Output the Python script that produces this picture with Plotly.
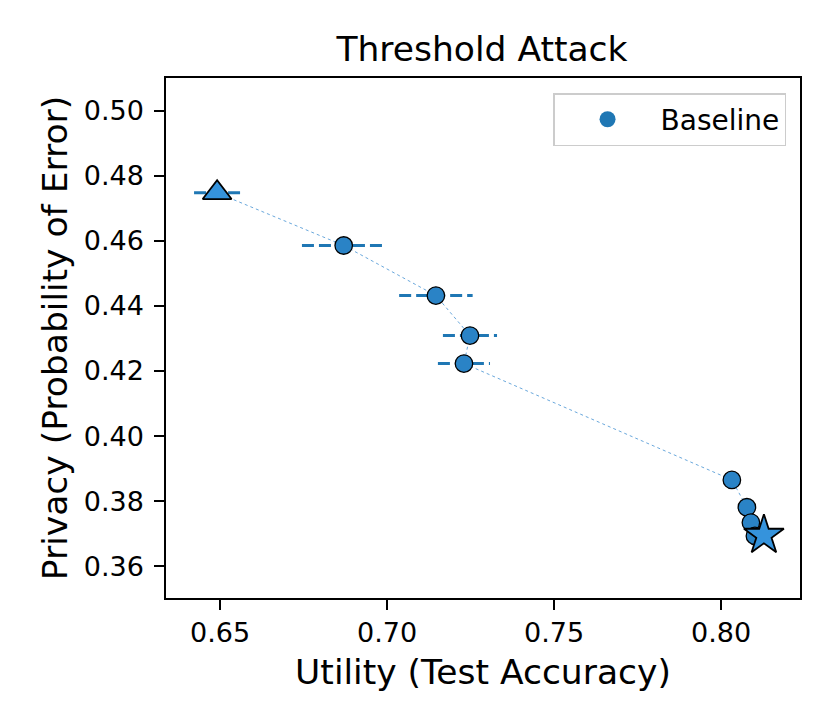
import plotly.graph_objects as go

# Threshold attack: utility vs privacy trade-off
utility = [0.6491, 0.6870, 0.7146, 0.7248, 0.7230, 0.8032, 0.8077, 0.8089, 0.8101, 0.8128]
privacy = [0.4748, 0.4586, 0.4432, 0.4309, 0.4223, 0.3865, 0.3781, 0.3734, 0.3693, 0.3695]
utility_err = [0.0069, 0.0125, 0.0110, 0.0081, 0.0078, 0.0, 0.0, 0.0, 0.0, 0.0]

xticks = [0.65, 0.70, 0.75, 0.80]
yticks = [0.36, 0.38, 0.40, 0.42, 0.44, 0.46, 0.48, 0.50]

FONT = "DejaVu Sans"
C0 = "#1f77b4"

fig = go.Figure()

# thin connecting line
fig.add_trace(go.Scatter(
    x=utility, y=privacy, mode="lines",
    line=dict(color="#6aa8dc", width=1, dash="dot"),
    showlegend=False, hoverinfo="skip",
))

# dashed horizontal error bars
ex, ey = [], []
for u, p, e in zip(utility, privacy, utility_err):
    if e > 0:
        ex += [u - e, u + e, None]
        ey += [p, p, None]
fig.add_trace(go.Scatter(
    x=ex, y=ey, mode="lines",
    line=dict(color=C0, width=3, dash="12px,5px"),
    showlegend=False, hoverinfo="skip",
))

# intermediate points
fig.add_trace(go.Scatter(
    x=utility[1:-1], y=privacy[1:-1], mode="markers",
    marker=dict(symbol="circle", size=17.5, color="#2a83c6",
                line=dict(color="black", width=1.3)),
    showlegend=False,
))

# end points
fig.add_trace(go.Scatter(
    x=utility[:1], y=privacy[:1], mode="markers",
    marker=dict(symbol="triangle-up", size=25, color="#3593dc",
                line=dict(color="black", width=1.8)),
    showlegend=False,
))
fig.add_trace(go.Scatter(
    x=utility[-1:], y=privacy[-1:], mode="markers",
    marker=dict(symbol="star", size=30, color="#3593dc",
                line=dict(color="black", width=1.8)),
    showlegend=False,
))

# legend entry
fig.add_trace(go.Scatter(
    x=[None], y=[None], mode="markers", name="Baseline",
    marker=dict(symbol="circle", size=18, color=C0),
))

axis_common = dict(
    showline=True, linecolor="black", linewidth=1.5, mirror=True,
    ticks="outside", ticklen=10, tickwidth=1.5, tickcolor="black",
    showgrid=False, zeroline=False,
    tickfont=dict(family=FONT, size=27, color="black"),
)

fig.update_layout(
    width=830, height=727,
    margin=dict(l=158, r=38, t=70, b=137),
    paper_bgcolor="white", plot_bgcolor="white",
    font=dict(family=FONT, color="black"),
    title=dict(text="Threshold Attack", x=474 / 830, xanchor="center",
               y=1 - 41 / 727, yanchor="middle",
               font=dict(family=FONT, size=34.5, color="black")),
    xaxis=dict(range=[0.6338, 0.8236], tickvals=xticks,
               ticktext=[f"{v:.2f}" for v in xticks],
               title=dict(text="Utility (Test Accuracy)", standoff=13,
                          font=dict(family=FONT, size=34.5)),
               **axis_common),
    yaxis=dict(range=[0.3502, 0.5101], tickvals=yticks,
               ticktext=[f"{v:.2f}" for v in yticks],
               ticklabelstandoff=5,
               title=dict(text="Privacy (Probability of Error)", standoff=6,
                          font=dict(family=FONT, size=34.5)),
               **axis_common),
    legend=dict(x=0.978, y=0.971, xanchor="right", yanchor="top",
                itemwidth=96,
                bordercolor="#cccccc", borderwidth=1.5, bgcolor="white",
                font=dict(family=FONT, size=28, color="black")),
)

fig.write_html("out.html")
